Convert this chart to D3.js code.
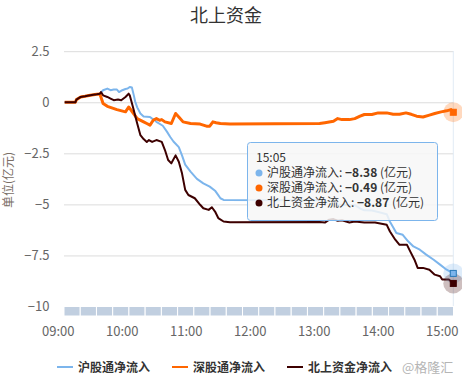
<html>
<head>
  <meta charset="utf-8">
  <script src="https://d3js.org/d3.v7.min.js"></script>
  <style>
    body { margin: 0; background: #fff; }
    text { font-family: "Noto Sans CJK SC", "Noto Sans", sans-serif; }
  </style>
  <script>
    var names  = [ "沪股通净流入", "深股通净流入", "北上资金净流入" ];
    var colors = [ "#7cb5ec", "#ff6600", "#3d0000" ];

    // 沪股通 (亿元)
    var shTime = [ "09:06","09:16","09:17","09:21","09:25","09:30","09:36","09:39","09:42","09:46",
                   "09:49","09:52","09:55","09:57","10:00","10:03","10:05","10:07","10:09","10:11",
                   "10:12","10:14","10:17","10:20","10:26","10:28","10:30","10:32","10:38","10:42",
                   "10:45","10:48","10:53","10:56","10:59","11:04","11:10","11:16","11:22","11:27",
                   "11:30","11:32","11:35","13:05","13:10","13:18","13:22","13:33","13:38","13:43",
                   "13:47","13:54","14:00","14:08","14:11","14:14","14:17","14:23","14:28","14:33",
                   "14:39","14:45","14:52","14:58","15:02","15:05" ];
    var shFlow = [ 0, 0, 0.13, 0.26, 0.29, 0.34, 0.39, 0.42, 0.59, 0.67,
                   0.59, 0.62, 0.62, 0.50, 0.59, 0.65, 0.67, 0.75, 0.72, 0.30,
                   0.05, -0.25, -0.55, -0.70, -0.72, -0.80, -0.85, -0.96, -1.15, -1.45,
                   -1.70, -1.92, -2.20, -2.60, -3.05, -3.40, -3.75, -3.97, -4.13, -4.33,
                   -4.55, -4.70, -4.78, -4.80, -4.89, -4.79, -5.00, -5.04, -5.04, -5.20,
                   -5.29, -5.30, -5.37, -5.48, -5.85, -6.12, -6.40, -6.49, -6.81, -7.06,
                   -7.22, -7.46, -7.71, -7.95, -8.20, -8.38 ];

    // 深股通 (亿元)
    var szTime = [ "09:06","09:16","09:17","09:21","09:25","09:30","09:36","09:39","09:42","09:46",
                   "09:55","10:03","10:06","10:09","10:14","10:20","10:23","10:26","10:29","10:32",
                   "10:35","10:37","10:40","10:46","10:50","10:53","10:57","11:04","11:13","11:19",
                   "11:22","11:25","11:28","11:32","11:41","13:05","13:10","13:18","13:22","13:26",
                   "13:33","13:38","13:43","13:47","13:54","14:00","14:08","14:14","14:20","14:26",
                   "14:31","14:36","14:42","14:48","14:53","14:59","15:02","15:04","15:05" ];
    var szFlow = [ 0, 0, 0.13, 0.26, 0.29, 0.34, 0.39, 0.40, -0.06, -0.20,
                   -0.36, -0.47, -0.23, -0.44, -0.80, -0.96, -1.04, -1.12, -0.88, -0.80,
                   -0.88, -0.85, -0.96, -1.04, -0.55, -0.72, -0.96, -1.04, -1.07, -1.17,
                   -1.17, -0.96, -1.00, -1.04, -1.07, -1.04, -1.00, -0.93, -0.80, -0.85,
                   -0.85, -0.80, -0.68, -0.60, -0.60, -0.52, -0.52, -0.59, -0.59, -0.52,
                   -0.59, -0.68, -0.72, -0.63, -0.55, -0.47, -0.42, -0.36, -0.49 ];

    // 北上资金 (亿元)
    var nbTime = [ "09:06","09:16","09:17","09:21","09:25","09:30","09:36","09:39","09:40","09:42",
                   "09:46","09:49","09:52","09:56","09:59","10:03","10:06","10:07","10:10","10:14",
                   "10:17","10:20","10:23","10:25","10:28","10:32","10:37","10:40","10:43","10:46",
                   "10:50","10:53","10:56","10:59","11:02","11:08","11:13","11:16","11:21","11:24",
                   "11:27","11:30","11:35","11:41","13:05","13:10","13:14","13:18","13:22","13:26",
                   "13:33","13:38","13:47","13:57","14:08","14:11","14:16","14:20","14:27","14:30",
                   "14:34","14:37","14:42","14:48","14:53","14:58","15:00","15:03","15:05" ];
    var nbFlow = [ 0, 0, 0.13, 0.26, 0.29, 0.34, 0.39, 0.42, 0.50, 0.34,
                   0.26, 0.18, 0.10, 0.13, 0.10, 0.26, 0.42, 0.34, -0.23, -1.04,
                   -1.61, -1.80, -1.94, -1.85, -1.94, -1.85, -1.94, -2.34, -2.83, -2.99,
                   -2.60, -2.91, -3.48, -4.29, -4.54, -4.70, -5.02, -5.19, -5.27, -5.14,
                   -5.35, -5.67, -5.84, -5.87, -5.86, -5.89, -5.75, -5.72, -5.80, -5.78,
                   -5.89, -5.84, -5.89, -5.89, -6.00, -6.33, -6.73, -6.98, -6.98, -7.30,
                   -7.71, -8.11, -8.11, -8.20, -8.44, -8.52, -8.68, -8.68, -8.87 ];

    var xTicks = [ "09:00", "10:00", "11:00", "12:00", "13:00", "14:00", "15:00" ];
    var yTicks = [ 2.5, 0, -2.5, -5, -7.5, -10 ];
    var tipTime = "15:05";

    function makeChart() {
      var parse = d3.timeParse( "%H:%M" );
      var series = [ [shTime, shFlow], [szTime, szFlow], [nbTime, nbFlow] ].map( (s, i) => ( {
        name: names[i], color: colors[i],
        pts: s[0].map( (t, j) => ( { t: parse(t), v: s[1][j] } ) )
      } ) );

      var scX = d3.scaleTime()
          .domain( [ parse("09:00"), parse("15:00"), parse("15:05") ] )
          .range( [ 58.3, 442.2, 453.3 ] );
      var scY = d3.scaleLinear().domain( [-10, 2.5] ).range( [306.5, 51.2] );
      var left = 64, right = 453.5;

      var svg = d3.select( "#chart" );

      svg.append( "text" ).attr( "x", 226 ).attr( "y", 22 )
          .attr( "text-anchor", "middle" ).attr( "font-size", 18 ).attr( "fill", "#333" )
          .text( "北上资金" );

      // grid + y labels
      svg.append( "g" ).selectAll( "line" ).data( yTicks ).enter().append( "line" )
          .attr( "x1", left ).attr( "x2", right )
          .attr( "y1", d => scY(d) + 0.5 ).attr( "y2", d => scY(d) + 0.5 )
          .attr( "stroke", "#dcdcdc" ).attr( "stroke-width", 1 );
      var fmt = d3.format( "" );
      svg.append( "g" ).selectAll( "text" ).data( yTicks ).enter().append( "text" )
          .attr( "x", 49.5 ).attr( "y", d => scY(d) ).attr( "dy", "0.35em" )
          .attr( "text-anchor", "end" ).attr( "font-size", 13 ).attr( "fill", "#666" )
          .text( d => fmt(d) );

      svg.append( "text" ).attr( "transform", "translate(13,180) rotate(-90)" )
          .attr( "text-anchor", "middle" ).attr( "font-size", 12 ).attr( "fill", "#7a6e66" )
          .text( "单位(亿元)" );

      // crosshair
      svg.append( "line" )
          .attr( "x1", scX(parse(tipTime)) ).attr( "x2", scX(parse(tipTime)) )
          .attr( "y1", 51 ).attr( "y2", 306 )
          .attr( "stroke", "#e2ebf5" ).attr( "stroke-width", 1 );

      // bottom bar
      var slots = d3.range( 24 );
      var scB = d3.scaleBand().domain( slots ).range( [left, right] );
      svg.append( "g" ).selectAll( "rect" ).data( slots ).enter().append( "rect" )
          .attr( "x", d => scB(d) ).attr( "width", scB.bandwidth() )
          .attr( "y", scY(-10) ).attr( "height", 9.5 )
          .attr( "fill", "#c1cfe0" ).attr( "stroke", "#fff" ).attr( "stroke-width", 1 );

      svg.append( "g" ).selectAll( "text" ).data( xTicks ).enter().append( "text" )
          .attr( "x", d => scX(parse(d)) ).attr( "y", 336 )
          .attr( "text-anchor", "middle" ).attr( "font-size", 13 ).attr( "fill", "#666" )
          .text( d => d );

      // lines
      var line = d3.line().x( d => scX(d.t) ).y( d => scY(d.v) );
      var widths = [ 2, 3, 2 ];
      svg.append( "g" ).selectAll( "path" ).data( series ).enter().append( "path" )
          .attr( "d", d => line(d.pts) )
          .attr( "fill", "none" ).attr( "stroke", d => d.color )
          .attr( "stroke-width", (d, i) => widths[i] )
          .attr( "stroke-linejoin", "round" );

      // hover markers
      var last = series.map( s => s.pts[s.pts.length - 1] );
      svg.append( "g" ).selectAll( "circle" ).data( last ).enter().append( "circle" )
          .attr( "cx", d => scX(d.t) ).attr( "cy", d => scY(d.v) ).attr( "r", 10 )
          .attr( "fill", (d, i) => colors[i] ).attr( "fill-opacity", 0.25 );
      svg.append( "g" ).selectAll( "rect" ).data( last ).enter().append( "rect" )
          .attr( "x", d => scX(d.t) - 3 ).attr( "y", d => scY(d.v) - 3 )
          .attr( "width", 6 ).attr( "height", 6 )
          .attr( "fill", (d, i) => colors[i] )
          .attr( "stroke", (d, i) => i == 0 ? "#2a7ab8" : colors[i] ).attr( "stroke-width", 1 );

      // tooltip
      var tip = svg.append( "g" ).attr( "transform", "translate(247.5,142.5)" );
      tip.append( "rect" ).attr( "width", 190 ).attr( "height", 78 ).attr( "rx", 3 )
          .attr( "fill", "rgba(247,247,247,0.85)" ).attr( "stroke", "#7cb5ec" );
      tip.append( "text" ).attr( "x", 8.5 ).attr( "y", 19.5 )
          .attr( "font-size", 12 ).attr( "fill", "#333" ).text( tipTime );
      var vfmt = d3.format( ".2f" );
      var rows = tip.selectAll( "g.row" ).data( last ).enter().append( "g" )
          .attr( "transform", (d, i) => "translate(0," + (34.5 + i * 15) + ")" );
      rows.append( "circle" ).attr( "cx", 11.5 ).attr( "cy", -4 ).attr( "r", 3.5 )
          .attr( "fill", (d, i) => colors[i] );
      var rt = rows.append( "text" ).attr( "x", 19.5 ).attr( "font-size", 12 ).attr( "fill", "#333" );
      rt.append( "tspan" ).text( (d, i) => names[i] + ": " );
      rt.append( "tspan" ).attr( "font-weight", "bold" ).text( d => vfmt(d.v) );
      rt.append( "tspan" ).text( " (亿元)" );

      // legend
      var legX = [ 57, 172, 287 ];
      var leg = svg.append( "g" ).selectAll( "g" ).data( series ).enter().append( "g" )
          .attr( "transform", (d, i) => "translate(" + legX[i] + ",367)" );
      leg.append( "line" ).attr( "x1", 0 ).attr( "x2", 16 )
          .attr( "stroke", d => d.color ).attr( "stroke-width", 2 );
      leg.append( "text" ).attr( "x", 21 ).attr( "y", 5 )
          .attr( "font-size", 12 ).attr( "font-weight", "bold" ).attr( "fill", "#333" )
          .text( d => d.name );

      svg.append( "text" ).attr( "x", 402 ).attr( "y", 372 )
          .attr( "font-size", 13 ).attr( "fill", "#b5b5b5" ).text( "@格隆汇" );
    }
  </script>
</head>

<body onload="makeChart()">
  <svg id="chart" width="462" height="383"></svg>
</body>
</html>
